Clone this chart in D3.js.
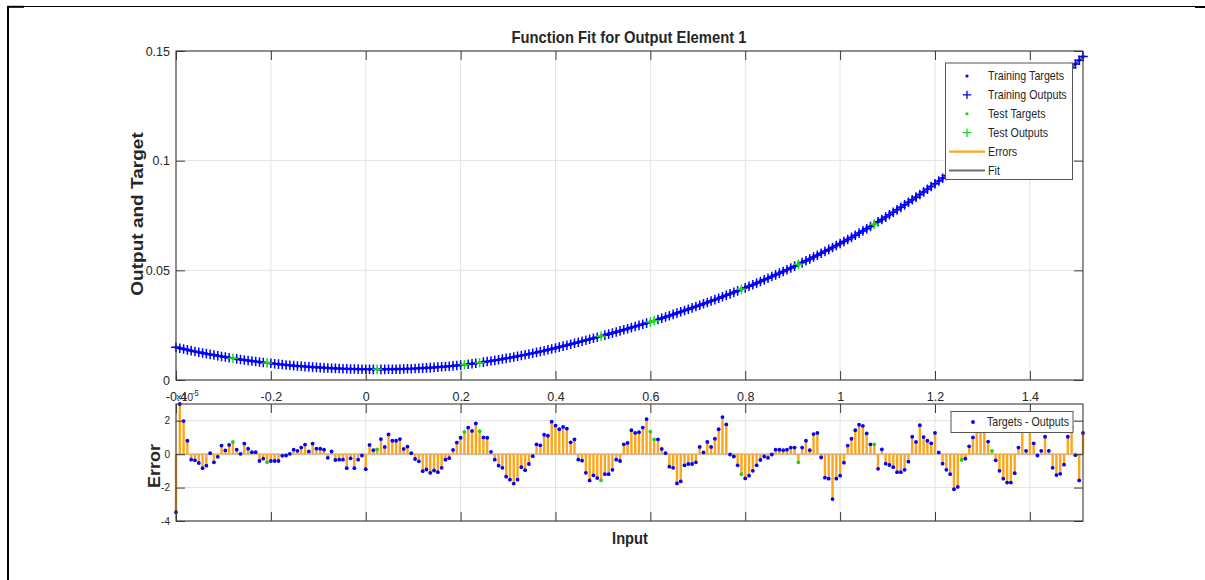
<!DOCTYPE html>
<html><head><meta charset="utf-8">
<script src="https://cdn.jsdelivr.net/npm/d3@7"></script>
<style>body{margin:0;background:#fff}svg{display:block}text{font-family:"Liberation Sans",Arial,Helvetica,sans-serif;fill:#262626}</style>
</head><body><svg id="c" width="1205" height="580"></svg>
<script>
// ---- data ----
const inputs = [
-0.4,-0.392,-0.384,-0.376,-0.368,-0.36,-0.352,-0.344,-0.336,-0.328,
-0.32,-0.312,-0.304,-0.296,-0.288,-0.28,-0.272,-0.264,-0.256,-0.248,
-0.24,-0.232,-0.224,-0.216,-0.208,-0.2,-0.192,-0.184,-0.176,-0.168,
-0.16,-0.152,-0.144,-0.136,-0.128,-0.12,-0.112,-0.104,-0.096,-0.088,
-0.08,-0.072,-0.064,-0.056,-0.048,-0.04,-0.032,-0.024,-0.016,-0.008,
0,0.008,0.016,0.024,0.032,0.04,0.048,0.056,0.064,0.072,
0.08,0.088,0.096,0.104,0.112,0.12,0.128,0.136,0.144,0.152,
0.16,0.168,0.176,0.184,0.192,0.2,0.208,0.216,0.224,0.232,
0.24,0.248,0.256,0.264,0.272,0.28,0.288,0.296,0.304,0.312,
0.32,0.328,0.336,0.344,0.352,0.36,0.368,0.376,0.384,0.392,
0.4,0.408,0.416,0.424,0.432,0.44,0.448,0.456,0.464,0.472,
0.48,0.488,0.496,0.504,0.512,0.52,0.528,0.536,0.544,0.552,
0.56,0.568,0.576,0.584,0.592,0.6,0.608,0.616,0.624,0.632,
0.64,0.648,0.656,0.664,0.672,0.68,0.688,0.696,0.704,0.712,
0.72,0.728,0.736,0.744,0.752,0.76,0.768,0.776,0.784,0.792,
0.8,0.808,0.816,0.824,0.832,0.84,0.848,0.856,0.864,0.872,
0.88,0.888,0.896,0.904,0.912,0.92,0.928,0.936,0.944,0.952,
0.96,0.968,0.976,0.984,0.992,1,1.008,1.016,1.024,1.032,
1.04,1.048,1.056,1.064,1.072,1.08,1.088,1.096,1.104,1.112,
1.12,1.128,1.136,1.144,1.152,1.16,1.168,1.176,1.184,1.192,
1.2,1.208,1.216,1.224,1.232,1.24,1.248,1.256,1.264,1.272,
1.28,1.288,1.296,1.304,1.312,1.32,1.328,1.336,1.344,1.352,
1.36,1.368,1.376,1.384,1.392,1.4,1.408,1.416,1.424,1.432,
1.44,1.448,1.456,1.464,1.472,1.48,1.488,1.496,1.504,1.512];

const targets = [
0.0149,0.01451,0.01412,0.01375,0.01338,0.01302,0.01267,0.01233,0.012,0.01167,
0.01136,0.01105,0.01075,0.01046,0.01017,0.0099,0.00963,0.00937,0.00912,0.00888,
0.00864,0.00842,0.0082,0.00799,0.00779,0.0076,0.00741,0.00722,0.00704,0.00687,
0.00671,0.00655,0.0064,0.00626,0.00612,0.00599,0.00587,0.00576,0.00565,0.00555,
0.00545,0.00536,0.00529,0.00521,0.00515,0.00509,0.00504,0.00499,0.00495,0.00492,
0.0049,0.00488,0.00486,0.00485,0.00485,0.00486,0.00488,0.00491,0.00494,0.00499,
0.00504,0.0051,0.00516,0.00524,0.00532,0.00542,0.00552,0.00563,0.00574,0.00587,
0.006,0.00615,0.0063,0.00646,0.00662,0.0068,0.007,0.00722,0.00744,0.00767,
0.00791,0.00816,0.00842,0.00869,0.00896,0.00925,0.00954,0.00985,0.01016,0.01048,
0.01081,0.01115,0.0115,0.01185,0.01222,0.01259,0.01298,0.01337,0.01377,0.01418,
0.0146,0.01502,0.01545,0.01588,0.01632,0.01676,0.0172,0.01765,0.0181,0.01856,
0.01902,0.01949,0.01996,0.02044,0.02092,0.0214,0.02189,0.02239,0.02289,0.02339,
0.0239,0.02441,0.02492,0.02545,0.02597,0.0265,0.02705,0.02761,0.02817,0.02874,
0.02931,0.02989,0.03048,0.03107,0.03167,0.03227,0.03288,0.03349,0.03411,0.03474,
0.03537,0.03601,0.03665,0.0373,0.03795,0.03861,0.03928,0.03995,0.04063,0.04131,
0.042,0.04272,0.04344,0.04417,0.04491,0.04566,0.04641,0.04717,0.04794,0.04872,
0.0495,0.0503,0.0511,0.05191,0.05272,0.05354,0.05438,0.05521,0.05606,0.05691,
0.05778,0.05865,0.05952,0.06041,0.0613,0.0622,0.06313,0.06407,0.06503,0.066,
0.06699,0.06799,0.069,0.07002,0.07106,0.07211,0.07318,0.07426,0.07535,0.07645,
0.07757,0.0787,0.07985,0.08101,0.08218,0.08337,0.08457,0.08578,0.08701,0.08825,
0.0895,0.09073,0.09197,0.09323,0.09451,0.0958,0.09711,0.09843,0.09977,0.10113,
0.1025,0.10389,0.10529,0.10671,0.10815,0.1096,0.11107,0.11255,0.11405,0.11557,
0.1171,0.11865,0.12021,0.12179,0.12339,0.125,0.12651,0.12803,0.12957,0.13112,
0.13269,0.13428,0.13588,0.13749,0.13912,0.14077,0.14243,0.1441,0.14579,0.1475];

// errors (targets - outputs) in units of 1e-5
const errors = [
-3.47,3.0,1.98,0.80,-0.33,-0.37,-0.53,-0.84,-0.69,0.06,
-0.49,-0.16,0.51,0.22,0.55,0.73,0.27,0.02,0.63,0.33,
0.12,0.12,-0.41,-0.27,-0.49,-0.41,-0.41,-0.41,-0.10,-0.08,
0.02,0.27,0.20,0.39,0.57,0.16,0.63,0.33,0.33,0.27,
-0.22,0.16,-0.35,-0.33,-0.33,-0.84,-0.25,-0.84,-0.33,-0.08,
-0.90,0.55,0.24,0.29,0.90,0.43,1.18,0.80,0.80,0.90,
0.31,0.45,0.06,-0.29,-0.43,-1.02,-0.92,-1.12,-0.98,-1.08,
-0.82,-0.33,-0.24,0.25,0.69,0.98,1.33,1.59,1.39,1.84,
1.37,1.0,0.98,0.14,-0.33,-0.69,-0.82,-1.35,-1.53,-1.76,
-1.53,-0.78,-0.96,-0.59,-0.12,0.59,0.53,1.16,1.10,1.94,
1.71,1.49,1.63,1.53,0.71,0.88,-0.33,-0.39,-1.12,-1.57,
-1.27,-1.43,-1.57,-1.20,-1.20,-0.94,-0.33,-0.41,0.59,0.67,
1.43,1.27,1.31,1.59,2.10,1.35,0.88,0.88,0.31,0.06,
-0.75,-0.82,-1.75,-1.63,-0.67,-0.59,-0.59,-0.49,0.43,0.10,
0.73,0.43,0.92,1.49,2.22,1.78,-0.02,-0.14,-0.67,-1.20,
-1.45,-1.29,-1.00,-0.67,-0.35,-0.14,-0.22,-0.02,0.27,0.27,
0.24,0.27,0.39,0.39,-0.49,0.39,0.80,0.24,1.20,1.27,
-0.20,-1.41,-1.47,-2.69,-1.47,-1.29,-0.51,0.51,0.92,1.43,
1.76,1.69,1.24,0.59,0.59,-0.88,0.29,-0.57,-0.65,-0.78,
-1.08,-1.08,-0.94,-0.45,1.04,0.73,1.73,1.02,0.80,0.65,
1.27,0.10,-0.57,-0.94,-1.20,-2.10,-1.96,-0.35,-0.27,0.47,
1.0,1.6,1.8,1.6,0.75,0.2,-0.37,-1.0,-1.47,-1.7,
-1.7,-1.14,0.39,1.6,0.2,1.6,0.65,-0.08,0.2,1.04,
0.2,-0.82,-1.25,-1.18,-0.63,1.04,1.6,-0.06,-1.57,1.27];

const testIdx = [15,24,53,76,80,112,125,126,149,164,184,207,215];

const xTicks = [-0.4,-0.2,0,0.2,0.4,0.6,0.8,1,1.2,1.4];
const yTopTicks = [0,0.05,0.1,0.15];
const yBotTicks = [-4,-2,0,2];
const legendTop = ["Training Targets","Training Outputs","Test Targets","Test Outputs","Errors","Fit"];
const legendBottom = ["Targets - Outputs"];
const titleText = "Function Fit for Output Element 1";

// ---- drawing ----
const svg = d3.select("#c");
const K = 1.12; // vertical text stretch of the original picture
const BLUE = "#0000ff", GREEN = "#1fd41f", ORANGE = "#ffa51a", AX = "#3b3b3b", GRID = "#e3e3e3";

function txt(g, x, y, s, o = {}) {
  return g.append("text")
    .attr("transform", `translate(${x},${y}) scale(1,${K}) rotate(${o.rot || 0})`)
    .attr("text-anchor", o.anchor || "middle")
    .attr("dominant-baseline", "central")
    .style("font-size", (o.size || 12) + "px")
    .style("font-weight", o.weight || "normal")
    .text(s);
}

// frame
svg.append("line").attr("x1", 7).attr("x2", 1196).attr("y1", 6.5).attr("y2", 6.5).attr("stroke", "#000").attr("stroke-width", 1.2);
svg.append("line").attr("x1", 8).attr("x2", 8).attr("y1", 6).attr("y2", 580).attr("stroke", "#000").attr("stroke-width", 2);
svg.append("line").attr("x1", 7).attr("x2", 24).attr("y1", 6.8).attr("y2", 6.8).attr("stroke", "#000").attr("stroke-width", 2);
svg.append("line").attr("x1", 1195).attr("x2", 1205).attr("y1", 7).attr("y2", 7).attr("stroke", "#000").attr("stroke-width", 2);

const L = 176, R = 1083, T1 = 51, B1 = 380, T2 = 404, B2 = 521;
const x = d3.scaleLinear().domain([inputs[0], inputs[inputs.length - 1]]).range([L, R]);
const yT = d3.scaleLinear().domain([0, 0.15]).range([B1, T1]);
const yB = d3.scaleLinear().domain([-4, 3]).range([B2, T2]);
const fmt = v => String(+v.toFixed(3));

const isTest = new Set(testIdx);
const data = inputs.map((v, i) => ({ i, x: v, t: targets[i], e: errors[i], o: targets[i] - errors[i] * 1e-5, test: isTest.has(i) }));

function gridAndBox(yS, yTicks, y0, y1) {
  const g = svg.append("g");
  g.selectAll(".gv").data(xTicks).join("line").attr("x1", d => x(d)).attr("x2", d => x(d))
    .attr("y1", y0).attr("y2", y1).attr("stroke", GRID).attr("stroke-width", 1);
  g.selectAll(".gh").data(yTicks).join("line").attr("x1", L).attr("x2", R)
    .attr("y1", d => yS(d)).attr("y2", d => yS(d)).attr("stroke", GRID).attr("stroke-width", 1);
  return g;
}
function axesFrame(yS, yTicks, y0, y1, showX) {
  const g = svg.append("g");
  const tl = 9;
  g.append("g").attr("transform", `translate(0,${y1})`)
    .call(d3.axisBottom(x).tickValues(xTicks).tickSizeInner(-tl).tickSizeOuter(0).tickPadding(12).tickFormat(showX ? fmt : ""));
  g.append("g").attr("transform", `translate(0,${y0})`)
    .call(d3.axisTop(x).tickValues(xTicks).tickSizeInner(-tl).tickSizeOuter(0).tickFormat(""));
  g.append("g").attr("transform", `translate(${L},0)`)
    .call(d3.axisLeft(yS).tickValues(yTicks).tickSizeInner(-tl).tickSizeOuter(0).tickPadding(6).tickFormat(fmt));
  g.append("g").attr("transform", `translate(${R},0)`)
    .call(d3.axisRight(yS).tickValues(yTicks).tickSizeInner(-tl).tickSizeOuter(0).tickFormat(""));
  g.selectAll(".domain").remove();
  g.selectAll(".tick line").attr("stroke", AX).attr("stroke-width", 1);
  g.selectAll(".tick text").attr("fill", AX).style("font-family", '"Liberation Sans",Arial,sans-serif').style("font-size", "12.5px");
  g.append("rect").attr("x", L).attr("y", y0).attr("width", R - L).attr("height", y1 - y0)
    .attr("fill", "none").attr("stroke", AX).attr("stroke-width", 1.1);
  return g;
}

// ===== top plot =====
gridAndBox(yT, yTopTicks, T1, B1);
const topG = svg.append("g");
topG.append("path").datum(data).attr("fill", "none").attr("stroke", "#6e6e6e").attr("stroke-width", 2)
  .attr("d", d3.line().x(d => x(d.x)).y(d => yT(d.o)));
function plus(g, arr, col) {
  g.selectAll(null).data(arr).join("path")
    .attr("d", d => { const cx = x(d.x), cy = yT(d.o), s = 4.8; return `M${cx - s},${cy}H${cx + s}M${cx},${cy - s}V${cy + s}`; })
    .attr("stroke", col).attr("stroke-width", 1.5).attr("fill", "none");
}
function dots(g, arr, col, r) {
  g.selectAll(null).data(arr).join("circle").attr("cx", d => x(d.x)).attr("cy", d => yT(d.t)).attr("r", r).attr("fill", col);
}
const tr = data.filter(d => !d.test), te = data.filter(d => d.test);
dots(topG, tr, BLUE, 1.8); plus(topG, tr, BLUE);
dots(topG, te, GREEN, 1.8); plus(topG, te, GREEN);
axesFrame(yT, yTopTicks, T1, B1, true);

txt(svg, 629, 37, titleText, { size: 14.8, weight: "bold" });
txt(svg, 137, 214, "Output and Target", { size: 17, weight: "bold", rot: -90 });

// top legend
const lg = svg.append("g");
lg.append("rect").attr("x", 945.5).attr("y", 63).attr("width", 127).attr("height", 116.5).attr("fill", "#fff").attr("stroke", "#555").attr("stroke-width", 1);
const rowY = i => 76 + i * 18.9;
legendTop.forEach((s, i) => txt(lg, 988, rowY(i), s, { size: 10.7, anchor: "start" }));
lg.append("circle").attr("cx", 967).attr("cy", rowY(0)).attr("r", 1.6).attr("fill", BLUE);
lg.append("path").attr("d", `M962.8,${rowY(1)}H971.2M967,${rowY(1) - 4.2}V${rowY(1) + 4.2}`).attr("stroke", BLUE).attr("stroke-width", 1.3);
lg.append("circle").attr("cx", 967).attr("cy", rowY(2)).attr("r", 1.6).attr("fill", GREEN);
lg.append("path").attr("d", `M962.8,${rowY(3)}H971.2M967,${rowY(3) - 4.2}V${rowY(3) + 4.2}`).attr("stroke", GREEN).attr("stroke-width", 1.3);
lg.append("line").attr("x1", 949).attr("x2", 985).attr("y1", rowY(4)).attr("y2", rowY(4)).attr("stroke", ORANGE).attr("stroke-width", 2.2);
lg.append("line").attr("x1", 949).attr("x2", 985).attr("y1", rowY(5)).attr("y2", rowY(5)).attr("stroke", "#6e6e6e").attr("stroke-width", 2.2);

// ===== bottom plot =====
gridAndBox(yB, yBotTicks, T2, B2);
const botG = svg.append("g");
botG.append("line").attr("x1", L).attr("x2", R).attr("y1", yB(0)).attr("y2", yB(0)).attr("stroke", "#c9c2b8").attr("stroke-width", 2);
botG.selectAll(null).data(data).join("line")
  .attr("x1", d => x(d.x)).attr("x2", d => x(d.x)).attr("y1", yB(0)).attr("y2", d => yB(d.e))
  .attr("stroke", ORANGE).attr("stroke-width", 2.4);
botG.selectAll(null).data(data).join("circle")
  .attr("cx", d => x(d.x)).attr("cy", d => yB(d.e)).attr("r", 1.9).attr("fill", d => d.test ? GREEN : BLUE);
const ax2 = axesFrame(yB, yBotTicks, T2, B2, false);
ax2.selectAll(".tick text").style("font-size", "10px");
txt(svg, 176, 397, "\u00d710", { size: 10, anchor: "start" });
txt(svg, 192, 393, "-5", { size: 7.5, anchor: "start" });

txt(svg, 155, 466, "Error", { size: 16, weight: "bold", rot: -90 });
txt(svg, 630, 538, "Input", { size: 14.7, weight: "bold" });

const lb = svg.append("g");
lb.append("rect").attr("x", 951).attr("y", 411.5).attr("width", 122).attr("height", 21).attr("fill", "#fff").attr("stroke", "#555").attr("stroke-width", 1);
lb.append("circle").attr("cx", 973).attr("cy", 422).attr("r", 1.9).attr("fill", BLUE);
txt(lb, 1069, 422, legendBottom[0], { size: 10.7, anchor: "end" });
</script></body></html>
